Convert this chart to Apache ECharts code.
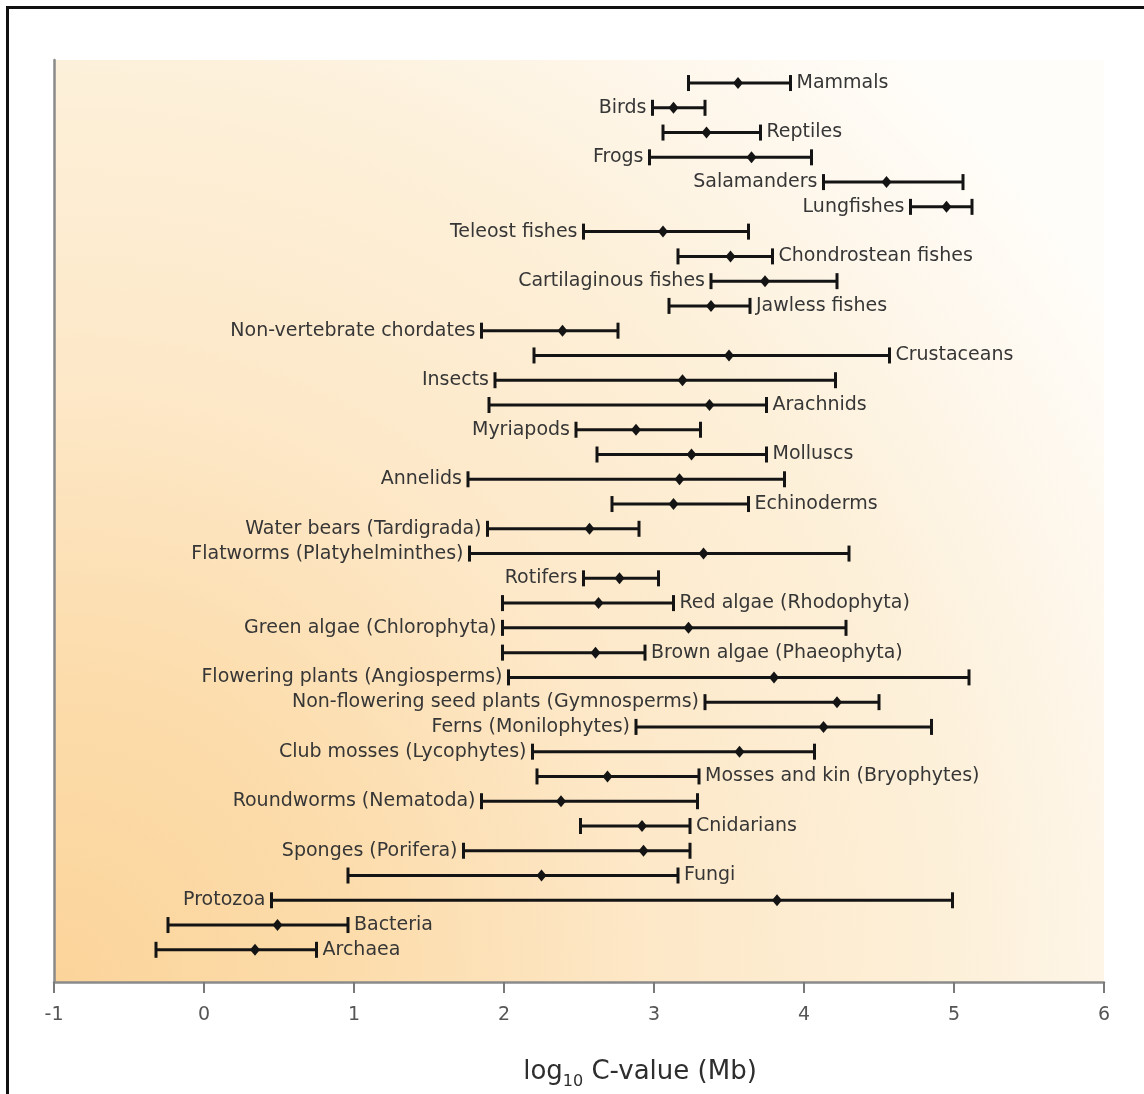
<!DOCTYPE html>
<html>
<head>
<meta charset="utf-8">
<script src="https://cdn.jsdelivr.net/npm/echarts@6/dist/echarts.min.js"></script>
<style>
  html, body { margin: 0; padding: 0; background: #ffffff; }
  #chart { width: 1144px; height: 1094px; }
</style>
</head>
<body>
<div id="chart"></div>
<script>
// Genome size ranges (log10 C-value, Mb) per group: low end, typical value, high end.
const groups = [
  'Mammals', 'Birds', 'Reptiles', 'Frogs', 'Salamanders', 'Lungfishes',
  'Teleost fishes', 'Chondrostean fishes', 'Cartilaginous fishes', 'Jawless fishes',
  'Non-vertebrate chordates', 'Crustaceans', 'Insects', 'Arachnids', 'Myriapods',
  'Molluscs', 'Annelids', 'Echinoderms', 'Water bears (Tardigrada)',
  'Flatworms (Platyhelminthes)', 'Rotifers', 'Red algae (Rhodophyta)',
  'Green algae (Chlorophyta)', 'Brown algae (Phaeophyta)', 'Flowering plants (Angiosperms)',
  'Non-flowering seed plants (Gymnosperms)', 'Ferns (Monilophytes)',
  'Club mosses (Lycophytes)', 'Mosses and kin (Bryophytes)', 'Roundworms (Nematoda)',
  'Cnidarians', 'Sponges (Porifera)', 'Fungi', 'Protozoa', 'Bacteria', 'Archaea'
];
const lows = [
  3.23, 2.99, 3.06, 2.97, 4.13, 4.71,
  2.53, 3.16, 3.38, 3.10,
  1.85, 2.20, 1.94, 1.90, 2.48,
  2.62, 1.76, 2.72, 1.89,
  1.77, 2.53, 1.99,
  1.99, 1.99, 2.03,
  3.34, 2.88,
  2.19, 2.22, 1.85,
  2.51, 1.73, 0.96, 0.45, -0.24, -0.32
];
const mids = [
  3.56, 3.13, 3.35, 3.65, 4.55, 4.95,
  3.06, 3.51, 3.74, 3.38,
  2.39, 3.50, 3.19, 3.37, 2.88,
  3.25, 3.17, 3.13, 2.57,
  3.33, 2.77, 2.63,
  3.23, 2.61, 3.80,
  4.22, 4.13,
  3.57, 2.69, 2.38,
  2.92, 2.93, 2.25, 3.82, 0.49, 0.34
];
const highs = [
  3.91, 3.34, 3.71, 4.05, 5.06, 5.12,
  3.63, 3.79, 4.22, 3.64,
  2.76, 4.57, 4.21, 3.75, 3.31,
  3.75, 3.87, 3.63, 2.90,
  4.30, 3.03, 3.13,
  4.28, 2.94, 5.10,
  4.50, 4.85,
  4.07, 3.30, 3.29,
  3.24, 3.24, 3.16, 4.99, 0.96, 0.75
];
// Which side of its bar each name is written on.
const labelSides = [
  'R', 'L', 'R', 'L', 'L', 'L',
  'L', 'R', 'L', 'R',
  'L', 'R', 'L', 'R', 'L',
  'R', 'L', 'R', 'L',
  'L', 'L', 'R',
  'L', 'R', 'L',
  'L', 'L',
  'L', 'R', 'L',
  'R', 'L', 'R', 'L', 'R', 'R'
];
const xMin = -1, xMax = 6, xStep = 1;

const INK = '#141414';
const TEXT = '#363636';
const FONT = '"DejaVu Sans", "Liberation Sans", sans-serif';

const rangeData = groups.map((g, i) => [i, lows[i], mids[i], highs[i]]);
const midData = groups.map((g, i) => [mids[i], i]);

const chart = echarts.init(document.getElementById('chart'), null, { renderer: 'canvas' });

chart.setOption({
  animation: false,
  backgroundColor: '#ffffff',
  graphic: [{
    type: 'rect',
    silent: true,
    shape: { x: 7.5, y: 7.5, width: 1400, height: 1400 },
    style: { fill: 'none', stroke: '#111111', lineWidth: 3 }
  }],
  grid: {
    left: 54, right: 40, top: 60, bottom: 112,
    outerBoundsMode: 'none',
    containLabel: false,
    show: true,
    borderWidth: 0,
    backgroundColor: new echarts.graphic.RadialGradient(0, 1, 1.36, [
      { offset: 0, color: '#fbd49a' },
      { offset: 0.24, color: '#fcdcab' },
      { offset: 0.48, color: '#fde8c8' },
      { offset: 0.72, color: '#fdf0d9' },
      { offset: 0.88, color: '#fef7ec' },
      { offset: 1, color: '#fffdf9' }
    ])
  },
  xAxis: {
    type: 'value',
    min: xMin, max: xMax, interval: xStep,
    axisLine: { show: true, onZero: false, lineStyle: { color: '#8a8a8a', width: 2.5 } },
    axisTick: { show: true, length: 11, lineStyle: { color: '#7a7a7a', width: 2 } },
    axisLabel: { margin: 24, fontSize: 19, color: '#555555', fontFamily: FONT },
    splitLine: { show: false },
    name: '{a|log}{s|10}{a| C-value (Mb)}',
    nameLocation: 'middle',
    nameGap: 74,
    nameTextStyle: {
      padding: [0, 0, 0, 122],
      rich: {
        a: { fontSize: 26, fontFamily: FONT, color: '#2e2e2e', lineHeight: 32 },
        s: { fontSize: 16, fontFamily: FONT, color: '#2e2e2e', lineHeight: 32, verticalAlign: 'bottom', padding: [0, 0, -2, 0] }
      }
    }
  },
  yAxis: {
    type: 'value',
    inverse: true,
    min: -0.93, max: 36.3,
    axisLine: { show: true, onZero: false, lineStyle: { color: '#8a8a8a', width: 2.5 } },
    axisTick: { show: false },
    axisLabel: { show: false },
    splitLine: { show: false }
  },
  series: [
    {
      type: 'custom',
      data: rangeData,
      encode: { x: [1, 3], y: 0 },
      z: 3,
      renderItem: function (params, api) {
        const i = api.value(0);
        const lo = api.coord([api.value(1), i]);
        const hi = api.coord([api.value(3), i]);
        const cap = 8;
        const right = labelSides[i] === 'R';
        const stroke = { stroke: INK, lineWidth: 3 };
        return {
          type: 'group',
          children: [
            { type: 'line', shape: { x1: lo[0], y1: lo[1], x2: hi[0], y2: hi[1] }, style: stroke },
            { type: 'line', shape: { x1: lo[0], y1: lo[1] - cap, x2: lo[0], y2: lo[1] + cap }, style: stroke },
            { type: 'line', shape: { x1: hi[0], y1: hi[1] - cap, x2: hi[0], y2: hi[1] + cap }, style: stroke },
            {
              type: 'text',
              x: right ? hi[0] + 6 : lo[0] - 6,
              y: lo[1],
              style: {
                text: groups[i],
                align: right ? 'left' : 'right',
                verticalAlign: 'middle',
                font: '19px ' + FONT,
                fill: TEXT
              }
            }
          ]
        };
      }
    },
    {
      type: 'scatter',
      data: midData,
      symbol: 'diamond',
      symbolSize: [10, 12],
      z: 4,
      itemStyle: { color: INK, opacity: 1 }
    }
  ]
});
</script>
</body>
</html>
